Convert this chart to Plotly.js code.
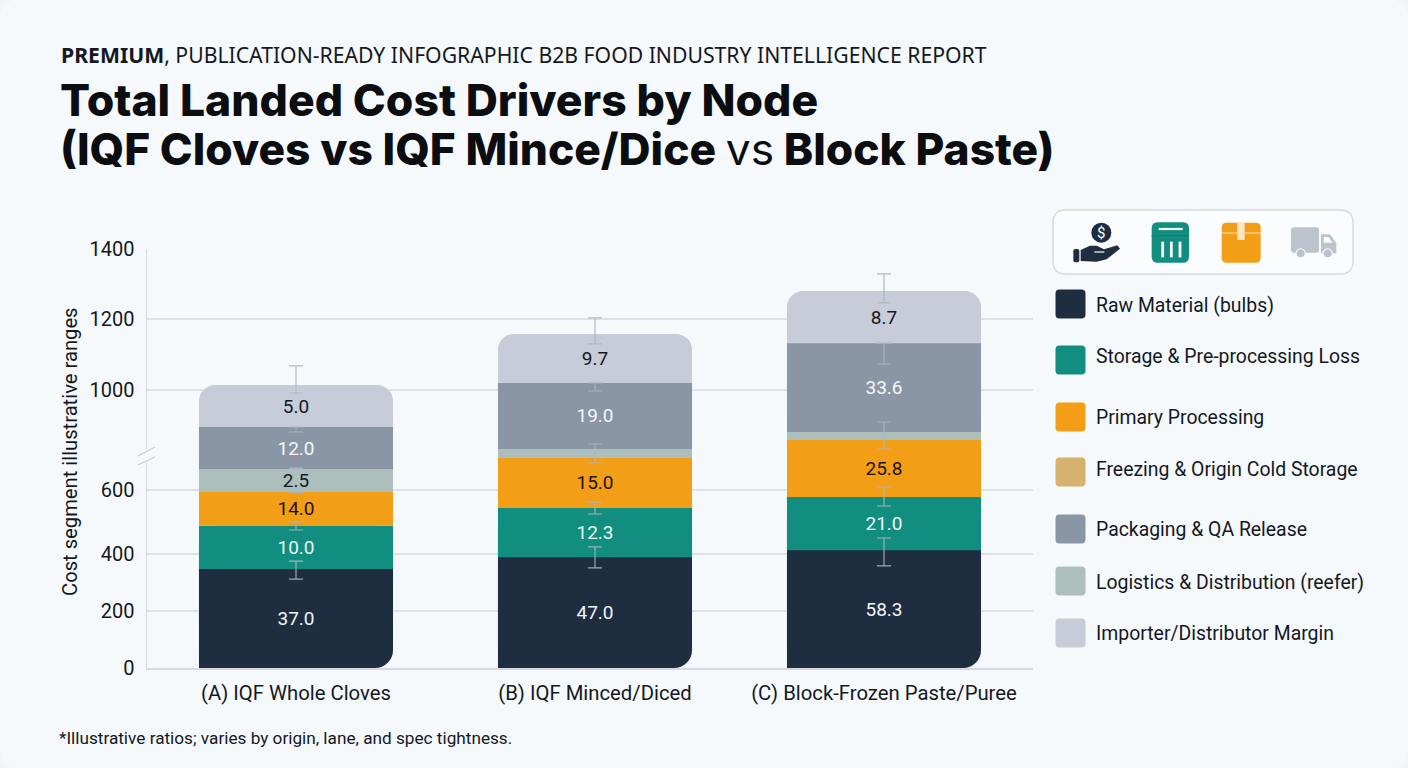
<!DOCTYPE html>
<html>
<head>
<meta charset="utf-8">
<script src="https://cdn.plot.ly/plotly-3.0.1.min.js"></script>
<style>html,body{margin:0;padding:0;background:#f1f5f9;overflow:hidden}</style>
</head>
<body>
<div id="chart" style="width:1408px;height:768px"></div>
<script>
// ---------- data (axis units) ----------
const categories = ["(A) IQF Whole Cloves", "(B) IQF Minced/Diced", "(C) Block-Frozen Paste/Puree"];
const legendNames = ["Raw Material (bulbs)", "Storage & Pre-processing Loss", "Primary Processing",
  "Freezing & Origin Cold Storage", "Packaging & QA Release", "Logistics & Distribution (reefer)", "Importer/Distributor Margin"];
const yTickValues = [0, 200, 400, 600, 1000, 1200, 1400];

const rawMaterial = [347, 389, 412];
const storageLoss = [141, 155, 166];
const primaryProc = [106, 184, 222];
const logistics   = [90, 36, 32];
const packaging   = [168, 256, 300];
const margin      = [162, 138, 148];

const rawLabels       = ["37.0", "47.0", "58.3"];
const storageLabels   = ["10.0", "12.3", "21.0"];
const primaryLabels   = ["14.0", "15.0", "25.8"];
const logisticsLabels = ["2.5", "", ""];
const packagingLabels = ["12.0", "19.0", "33.6"];
const marginLabels    = ["5.0", "9.7", "8.7"];

const whiskerLowA  = [312, 475, 591, 684, 832, 988];
const whiskerHighA = [375, 500, 594, 688, 852, 1068];
const whiskerLowB  = [351, 525, 708, 996, 1130];
const whiskerHighB = [422, 562, 784, 1020, 1203];
const whiskerLowC  = [358, 550, 764, 1073, 1246];
const whiskerHighC = [450, 612, 872, 1132, 1329];

// ---------- styling / scale ----------
const C = {raw:"#1f2d40", storage:"#128e80", primary:"#f39e17", freezing:"#d7b16e", packaging:"#8a96a5", logistics:"#adbfbc", margin:"#c7ccd8"};
const legendColors = [C.raw, C.storage, C.primary, C.freezing, C.packaging, C.logistics, C.margin];
const legendCentersPx = [304, 360, 417, 472, 529, 581, 633];
const legendTextPx    = [305, 356, 417, 469, 529, 582, 633];
const slots = [0, 1.017, 2];                 // category slots on the x axis
const barWidth = 0.66;
const axisPositions = [0, 57, 114, 178, 278, 349, 419];   // broken y axis: position of each tick

// piecewise scale of the broken value axis
function sc(v){
  for(let i=1;i<yTickValues.length;i++){
    if(v<=yTickValues[i]){
      const a=yTickValues[i-1],b=yTickValues[i];
      return axisPositions[i-1]+(v-a)/(b-a)*(axisPositions[i]-axisPositions[i-1]);
    }
  }
  return axisPositions[axisPositions.length-1];
}
const FONT = "Roboto, sans-serif", INK = "#14181f";
const L=147,R=1033,T=249,B=668;
const X=p=>(p-L)/(R-L), Y=p=>(B-p)/(B-T);

const stack=[
  {vals:rawMaterial,labels:rawLabels,color:C.raw,txt:"#f2f5f8",name:legendNames[0]},
  {vals:storageLoss,labels:storageLabels,color:C.storage,txt:"#e8f6f3",name:legendNames[1]},
  {vals:primaryProc,labels:primaryLabels,color:C.primary,txt:"#1d1306",name:legendNames[2]},
  {vals:logistics,labels:logisticsLabels,color:C.logistics,txt:"#14181f",name:legendNames[5]},
  {vals:packaging,labels:packagingLabels,color:C.packaging,txt:"#f4f6f8",name:legendNames[4]},
  {vals:margin,labels:marginLabels,color:C.margin,txt:"#14181f",name:legendNames[6]}
];
const n=stack.length;
const cum=[[0,0,0]];
stack.forEach((s,i)=>cum.push(cum[i].map((r,k)=>r+s.vals[k])));
const pos=cum.map(row=>row.map(sc));

const traces=[];
const plainBar=(o)=>Object.assign({type:"bar",x:slots,width:barWidth,hoverinfo:"skip",showlegend:false,cliponaxis:false},o);
// rounded caps sit behind the neighbouring segment, so only their outer end shows
traces.push(plainBar({name:"cap top",base:pos[n-2],y:pos[n].map((t,k)=>t-pos[n-2][k]),
  marker:{color:C.margin,line:{width:0},cornerradius:16}}));
traces.push(plainBar({name:"cap bottom",base:pos[0],y:pos[2],
  marker:{color:C.raw,line:{width:0},cornerradius:18}}));
// square bottom-left corner of the base segment
traces.push(plainBar({name:"corner",width:barWidth/2,offset:-barWidth/2,base:pos[0],y:pos[1],
  marker:{color:C.raw,line:{width:0}}}));
stack.forEach((s,i)=>{
  const capped=(i===0||i===n-1);
  traces.push(plainBar({
    name:s.name,base:pos[i],y:pos[i+1].map((t,k)=>t-pos[i][k]),
    text:s.labels,textposition:"inside",insidetextanchor:"middle",textangle:0,constraintext:"none",
    insidetextfont:{family:FONT,size:19,color:s.txt},
    marker:{color:capped?"rgba(0,0,0,0)":s.color,line:{width:0}}
  }));
});
function whisker(slot,low,high){
  const yl=low.map(sc),yh=high.map(sc);
  traces.push({type:"scatter",mode:"markers",x:low.map(()=>slot),y:yl,
    marker:{size:1,opacity:0},hoverinfo:"skip",showlegend:false,
    error_y:{type:"data",symmetric:false,array:yh.map((v,k)=>v-yl[k]),arrayminus:low.map(()=>0),
      color:"rgba(172,180,192,0.9)",thickness:1.2,width:7}});
}
whisker(slots[0],whiskerLowA,whiskerHighA);
whisker(slots[1],whiskerLowB,whiskerHighB);
whisker(slots[2],whiskerLowC,whiskerHighC);

// ---------- page furniture in pixel coordinates ----------
function rr(x0,y0,x1,y1,r){
  const f=(x,y)=>X(x)+","+Y(y);
  return "M"+f(x0+r,y0)+" L"+f(x1-r,y0)+" Q"+f(x1,y0)+" "+f(x1,y0+r)+" L"+f(x1,y1-r)+" Q"+f(x1,y1)+" "+f(x1-r,y1)+
         " L"+f(x0+r,y1)+" Q"+f(x0,y1)+" "+f(x0,y1-r)+" L"+f(x0,y0+r)+" Q"+f(x0,y0)+" "+f(x0+r,y0)+" Z";
}
const sh=(path,fill,extra)=>Object.assign({type:"path",xref:"paper",yref:"paper",path:path,fillcolor:fill,line:{width:0},layer:"above"},extra||{});
const circ=(cx,cy,r,fill,extra)=>Object.assign({type:"circle",xref:"paper",yref:"paper",x0:X(cx-r),x1:X(cx+r),y0:Y(cy+r),y1:Y(cy-r),fillcolor:fill,line:{width:0},layer:"above"},extra||{});
const seg=(x0,y0,x1,y1,color,w)=>({type:"line",xref:"paper",yref:"paper",x0:X(x0),y0:Y(y0),x1:X(x1),y1:Y(y1),line:{color:color,width:w},layer:"above"});
// icon coordinates: 3x crop units relative to (1040,200)
const ix=v=>1040+v/3, iy=v=>200+v/3;
function poly(pts,q){return pts.map((p,i)=>(i?"L":"M")+X(ix(p[0]))+","+Y(iy(p[1]))).join(" ")+" Z";}
const rrI=(a,b,c,d,r)=>rr(ix(a),iy(b),ix(c),iy(d),r);

const PAGE="#f5f9fc", TRUCK="#bcc3cd", PANEL="#fafcfe";
const shapes=[
  sh(rr(0,0,1408,768,18),PAGE,{layer:"below"}),
  // axis break
  seg(147,450,147,463,PAGE,3),
  seg(138,456,155,447,"#c6ccd5",1.3),
  seg(138,465,155,457,"#c6ccd5",1.3),
  // icon panel
  sh(rr(1053,210,1353,274,13),PANEL,{line:{color:"#d3d8df",width:1.3}}),
  // hand + coin
  circ(ix(184),iy(98),10,C.raw),
  sh(rrI(100,147,118,187,2),C.raw),
  sh(poly([[122,150],[150,137],[170,137],[192,148],[232,136],[240,146],[200,178],[170,185],[122,183]]),C.raw),
  seg(ix(163),iy(156),ix(193),iy(156),PANEL,1.2),
  // storage bin
  sh(rrI(335,67,447,188,6),C.storage),
  seg(ix(356),iy(87),ix(428),iy(87),PANEL,2.2),
  seg(ix(368),iy(125),ix(368),iy(172),PANEL,2.8),
  seg(ix(394),iy(125),ix(394),iy(172),PANEL,2.8),
  seg(ix(420),iy(125),ix(420),iy(172),PANEL,2.8),
  seg(ix(335),iy(107),ix(447),iy(107),"#0d7c70",1),
  // box
  sh(rrI(545,68,662,188,5),C.primary),
  sh(poly([[592,68],[614,68],[614,120],[592,120]]),"#fbe6bf"),
  seg(ix(545),iy(99),ix(592),iy(99),"#fbe6bf",1),
  seg(ix(614),iy(99),ix(662),iy(99),"#fbe6bf",1),
  // truck
  sh(rrI(753,82,837,158,3),TRUCK),
  sh(poly([[843,103],[870,103],[889,130],[889,160],[843,160]]),TRUCK),
  sh(poly([[851,111],[866,111],[878,128],[851,128]]),PANEL),
  circ(ix(782),iy(160),4.6,TRUCK,{line:{color:PANEL,width:1.2}}),
  circ(ix(863),iy(160),4.6,TRUCK,{line:{color:PANEL,width:1.2}})
];
legendNames.forEach((nm,i)=>{
  const c=legendCentersPx[i];
  shapes.push(sh(rr(1055.5,c-14.5,1085.5,c+14.5,4),legendColors[i]));
});

const ann=(txt,x,y,size,opts)=>Object.assign({text:txt,xref:"paper",yref:"paper",x:X(x),y:Y(y),xanchor:"left",yanchor:"middle",showarrow:false,
  font:{family:FONT,size:size,color:INK},align:"left"},opts||{});
const TF=(size)=>({family:"Inter, sans-serif",size:size,color:"#0b0d10",weight:800});
const annotations=[
  ann("<b>PREMIUM</b>, PUBLICATION-READY INFOGRAPHIC B2B FOOD INDUSTRY INTELLIGENCE REPORT",59,55,21.2,{font:{family:"'Noto Sans', sans-serif",size:21.2,color:"#14181f"}}),
  ann("Total Landed Cost Drivers by Node",57.5,100,44.5,{font:TF(44.5)}),
  ann("(IQF Cloves vs IQF Mince/Dice <span style=\"font-weight:400\">vs</span> Block Paste)",57.5,149,44.3,{font:TF(44.3)}),
  ann("Cost segment illustrative ranges",70,452,20.2,{textangle:-90,xanchor:"center"}),
  ann("*Illustrative ratios; varies by origin, lane, and spec tightness.",57,738,17.2),
  ann("$",ix(184),iy(98),15,{xanchor:"center",font:{family:FONT,size:15,color:"#ffffff"}})
];
legendNames.forEach((nm,i)=>annotations.push(ann(nm.replace(/&/g,"&amp;"),1093.5,legendTextPx[i],19.4)));

const layout={
  width:1408,height:768,autosize:false,
  margin:{l:L,r:1408-R,t:T,b:768-B,pad:0},
  paper_bgcolor:"#f1f5f9",plot_bgcolor:"rgba(0,0,0,0)",
  barmode:"overlay",showlegend:false,
  xaxis:{type:"linear",range:[-0.5068,2.5068],tickmode:"array",tickvals:slots,ticktext:categories,
    tickfont:{family:FONT,size:20.3,color:INK},ticks:"",showgrid:false,zeroline:false,
    showline:true,linecolor:"#d5dae2",linewidth:1.5,ticklabelstandoff:6},
  yaxis:{range:[0,419],tickmode:"array",tickvals:axisPositions,ticktext:yTickValues.map(String),
    tickfont:{family:FONT,size:20,color:INK},ticks:"",showgrid:true,gridcolor:"#dde2e8",gridwidth:1.5,zeroline:false,
    showline:true,linecolor:"#d5dae2",linewidth:1.5,ticklabelstandoff:7},
  shapes:shapes,annotations:annotations
};
Plotly.newPlot("chart",traces,layout,{displayModeBar:false,staticPlot:true});
</script>
</body>
</html>
